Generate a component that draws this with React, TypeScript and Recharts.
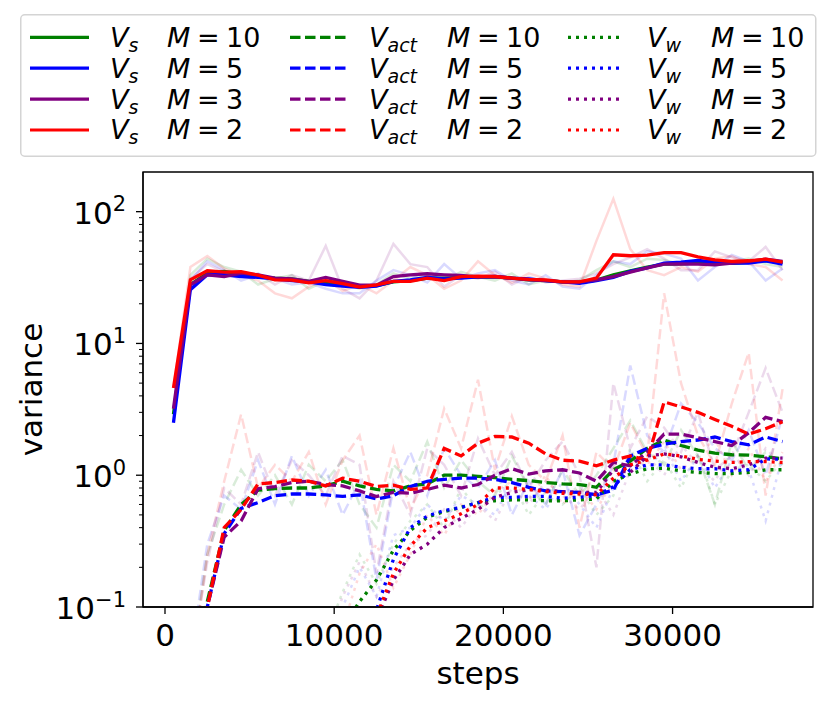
import React from 'react';
import { LineChart, Line, XAxis, YAxis, Legend, Label, ReferenceArea } from 'recharts';

// steps logged (every 1000, starting at 500)
const steps = [
  500, 1500, 2500, 3500, 4500, 5500, 6500, 7500, 8500, 9500,
  10500, 11500, 12500, 13500, 14500, 15500, 16500, 17500, 18500, 19500,
  20500, 21500, 22500, 23500, 24500, 25500, 26500, 27500, 28500, 29500,
  30500, 31500, 32500, 33500, 34500, 35500, 36500,
];

// smoothed curves
const vs10 = [2.9, 27.9, 34.2, 35.2, 33.6, 32.2, 31.3, 30.9, 29.6, 28.8, 27.7, 27.0, 27.5, 29.3, 30.0, 31.3, 31.3, 31.7, 31.9, 32.0, 31.3, 30.4, 30.0, 29.3, 29.0, 30.2, 33.2, 35.6, 38.0, 40.0, 40.2, 40.9, 41.2, 40.5, 41.2, 42.6, 41.2];
const vs5 = [2.5, 25.6, 33.2, 33.2, 32.2, 31.7, 30.9, 30.0, 29.3, 27.9, 27.2, 26.7, 27.2, 29.6, 30.4, 31.7, 30.9, 31.3, 32.0, 32.2, 31.3, 30.9, 30.0, 29.3, 28.6, 30.0, 31.7, 35.2, 37.5, 40.7, 41.4, 42.6, 41.4, 40.7, 40.7, 42.4, 40.0];
const vs3 = [3.2, 27.9, 33.2, 32.2, 34.2, 33.2, 31.3, 30.9, 29.6, 31.7, 29.6, 27.7, 27.7, 32.2, 33.2, 33.8, 33.2, 32.8, 31.9, 32.2, 31.3, 30.4, 30.0, 29.3, 29.3, 30.4, 32.2, 34.8, 37.5, 40.0, 40.2, 40.0, 39.5, 40.7, 41.9, 43.6, 41.9];
const vs2 = [4.6, 30.4, 35.6, 34.8, 35.0, 33.0, 30.4, 30.2, 28.8, 30.0, 28.4, 26.8, 27.8, 29.6, 29.6, 31.3, 30.0, 32.2, 32.4, 32.2, 31.3, 30.6, 30.4, 29.3, 29.3, 31.3, 47.1, 46.3, 46.8, 48.9, 48.9, 45.4, 43.1, 41.9, 42.4, 43.6, 41.4];

const vact10 = [0.005, 0.025, 0.11, 0.38, 0.6, 0.77, 0.79, 0.8, 0.8, 0.83, 0.9, 0.83, 0.78, 0.76, 0.83, 0.86, 1.0, 1.0, 0.98, 0.96, 0.93, 0.91, 0.88, 0.86, 0.85, 0.81, 1.1, 1.28, 1.6, 1.85, 1.68, 1.55, 1.47, 1.43, 1.42, 1.38, 1.33];
const vact5 = [0.004, 0.025, 0.1, 0.36, 0.56, 0.62, 0.7, 0.72, 0.72, 0.71, 0.69, 0.71, 0.66, 0.7, 0.82, 0.9, 0.93, 0.95, 0.95, 0.93, 0.88, 0.81, 0.76, 0.75, 0.74, 0.71, 0.77, 1.4, 1.6, 1.72, 1.8, 1.85, 1.95, 1.8, 1.7, 1.95, 1.8];
const vact3 = [0.005, 0.025, 0.1, 0.34, 0.45, 0.79, 0.82, 0.88, 0.9, 0.85, 0.83, 0.76, 0.69, 0.74, 0.73, 0.78, 0.84, 0.8, 0.85, 1.0, 1.12, 1.02, 1.08, 1.1, 1.04, 0.9, 1.25, 1.18, 1.5, 2.05, 2.05, 1.92, 1.8, 1.68, 2.1, 2.75, 2.55];
const vact2 = [0.005, 0.02, 0.1, 0.4, 0.55, 0.86, 0.88, 0.92, 0.9, 0.83, 0.95, 0.9, 0.82, 0.84, 0.78, 0.8, 1.6, 1.4, 1.75, 1.97, 1.95, 1.75, 1.45, 1.3, 1.28, 1.18, 1.3, 1.4, 1.3, 3.6, 3.3, 3.0, 2.65, 2.35, 2.05, 2.25, 2.55];

const vw10 = [null, null, null, null, null, null, null, null, null, null, 0.07, 0.11, 0.16, 0.27, 0.38, 0.48, 0.53, 0.57, 0.62, 0.64, 0.65, 0.65, 0.64, 0.64, 0.65, 0.66, 0.9, 1.02, 1.12, 1.13, 1.08, 1.05, 1.03, 1.03, 1.05, 1.1, 1.1];
const vw5 = [null, null, null, null, null, null, null, null, null, null, null, 0.045, 0.095, 0.23, 0.4, 0.49, 0.54, 0.57, 0.62, 0.68, 0.68, 0.69, 0.69, 0.67, 0.68, 0.7, 0.82, 1.1, 1.2, 1.2, 1.15, 1.12, 1.12, 1.08, 1.1, 1.33, 1.32];
const vw3 = [null, null, null, null, null, null, null, null, null, null, null, 0.04, 0.08, 0.16, 0.25, 0.3, 0.4, 0.47, 0.55, 0.68, 0.74, 0.78, 0.77, 0.75, 0.74, 0.74, 1.1, 1.05, 1.4, 1.45, 1.38, 1.25, 1.15, 1.12, 1.2, 1.35, 1.35];
const vw2 = [null, null, null, null, null, null, null, null, null, null, null, 0.04, 0.085, 0.18, 0.29, 0.4, 0.45, 0.51, 0.6, 0.8, 0.8, 0.78, 0.75, 0.73, 0.72, 0.71, 0.95, 1.2, 1.3, 1.45, 1.4, 1.32, 1.28, 1.25, 1.27, 1.27, 1.25];

// raw (faint) curves
const fvs10 = [2.9, 33, 44, 38, 35, 28, 31, 33, 26, 30, 29, 26, 28, 34, 31, 33, 30, 35, 32, 30, 34, 28, 30, 29, 30, 36, 42, 38, 44, 43, 40, 41, 39, 42, 44, 40, 38];
const fvs5 = [2.5, 30, 42, 36, 30, 33, 31, 28, 29, 26, 24, 24, 30, 36, 33, 29, 40, 31, 34, 36, 30, 28, 33, 27, 26, 33, 42, 40, 50, 48, 44, 30, 38, 47, 42, 30, 37];
const fvs3 = [3.2, 31, 40, 35, 32, 34, 28, 33, 30, 55, 26, 22, 30, 57, 40, 38, 27, 33, 31, 35, 28, 32, 29, 30, 31, 34, 40, 45, 52, 44, 36, 36, 50, 45, 42, 54, 36];
const fvs2 = [4.6, 38, 46, 37, 33, 30, 24, 22, 27, 31, 25, 28, 24, 30, 38, 33, 26, 30, 42, 33, 29, 34, 31, 28, 27, 60, 125, 52, 36, 33, 38, 35, 44, 46, 40, 38, 30];

const fvact10 = [0.005, 0.035, 0.25, 0.6, 1.1, 0.7, 1.0, 0.6, 1.2, 0.9, 1.3, 0.6, 0.4, 1.2, 0.9, 1.8, 0.8, 1.3, 0.9, 0.7, 1.4, 0.8, 0.6, 1.1, 0.7, 1.0, 1.6, 2.6, 1.5, 1.2, 2.2, 1.4, 0.6, 1.8, 1.1, 1.5, 1.2];
const fvact5 = [0.005, 0.04, 0.3, 0.7, 0.55, 1.3, 0.6, 1.4, 0.7, 1.1, 0.5, 0.9, 0.16, 0.8, 1.5, 0.7, 1.6, 1.0, 0.8, 1.3, 0.5, 0.9, 0.6, 1.1, 0.35, 0.6, 1.2, 6.8, 2.0, 1.5, 3.5, 2.5, 1.6, 1.3, 2.2, 1.0, 2.8];
const fvact3 = [0.005, 0.035, 0.22, 0.8, 0.6, 1.5, 0.7, 1.3, 1.0, 0.7, 1.4, 1.2, 0.18, 0.9, 0.5, 1.6, 1.2, 0.7, 1.9, 1.0, 1.5, 0.8, 1.3, 1.8, 1.0, 0.2, 5.0, 1.6, 2.8, 2.3, 1.5, 3.0, 1.1, 1.4, 3.0, 6.5, 3.0];
const fvact2 = [0.005, 0.03, 0.25, 0.9, 2.9, 0.8, 1.2, 0.9, 1.5, 0.6, 1.3, 2.0, 0.5, 1.6, 0.55, 1.0, 3.2, 1.6, 5.3, 1.1, 2.8, 1.2, 0.9, 2.0, 0.4, 1.5, 1.1, 2.5, 1.4, 24, 5, 2.0, 1.2, 3.5, 8.5, 0.7, 4.5];

const fvw10 = [null, null, null, null, null, null, null, null, null, 0.06, 0.13, 0.25, 0.15, 0.3, 0.45, 0.6, 0.4, 0.8, 0.55, 0.7, 0.9, 0.5, 0.75, 0.6, 0.8, 0.5, 0.7, 1.6, 0.9, 1.3, 0.8, 1.5, 0.6, 1.1, 1.2, 0.9, 1.3];
const fvw5 = [null, null, null, null, null, null, null, null, null, 0.05, 0.1, 0.2, 0.12, 0.35, 0.4, 0.6, 0.45, 0.7, 0.6, 0.5, 0.9, 0.7, 0.55, 0.9, 0.6, 0.4, 0.8, 1.5, 1.1, 1.6, 0.9, 1.4, 0.8, 1.3, 1.1, 0.45, 1.4];
const fvw3 = [null, null, null, null, null, null, null, null, null, 0.05, 0.12, 0.22, 0.12, 0.2, 0.3, 0.35, 0.55, 0.4, 0.6, 0.45, 0.8, 0.6, 0.9, 0.7, 0.55, 0.8, 0.5, 1.1, 1.4, 1.0, 1.7, 1.2, 0.9, 1.5, 1.0, 1.6, 1.2];
const fvw2 = [null, null, null, null, null, null, null, null, null, 0.05, 0.07, 0.18, 0.3, 0.14, 0.25, 0.5, 0.35, 0.6, 0.5, 0.75, 0.9, 0.65, 1.0, 0.6, 0.8, 0.55, 0.9, 1.3, 1.2, 1.8, 1.1, 1.4, 1.9, 1.0, 1.6, 0.9, 1.5];

const xTicks = [0, 10000, 20000, 30000];
const yMajor = [0.1, 1, 10, 100];
const yMinor = [0.2, 0.3, 0.4, 0.5, 0.6, 0.7, 0.8, 0.9, 2, 3, 4, 5, 6, 7, 8, 9, 20, 30, 40, 50, 60, 70, 80, 90];
const yExp: Record<string, string> = { '0.1': '\u22121', '1': '0', '10': '1', '100': '2' };

const legendMs = [10, 5, 3, 2];
const legendSubs = ['s', 'act', 'w'];

const series: Record<string, (number | null)[]> = {
  vs10, vs5, vs3, vs2, vact10, vact5, vact3, vact2, vw10, vw5, vw3, vw2,
  fvs10, fvs5, fvs3, fvs2, fvact10, fvact5, fvact3, fvact2, fvw10, fvw5, fvw3, fvw2,
};

const data = steps.map((step, i) => {
  const row: Record<string, number | null> = { step };
  Object.keys(series).forEach((k) => { row[k] = series[k][i]; });
  return row;
});

const X_DOMAIN: [number, number] = [-1300, 38300];
const Y_DOMAIN: [number, number] = [0.1, 200];

const COLORS = ['#008000', '#0000ff', '#800080', '#ff0000'];
const GROUPS = [
  { name: 'vs', dash: undefined as string | undefined },
  { name: 'vact', dash: '10.5 4.5' },
  { name: 'vw', dash: '3 5' },
];
const FONT = '"DejaVu Sans", sans-serif';

const LEGEND_COLS = [
  { sx: 10, ex: 69, vx: 90, mx: 147 },
  { sx: 270, ex: 326, vx: 349, mx: 427 },
  { sx: 548, ex: 604, vx: 627, mx: 691 },
];

const LegendBox = () => (
  <svg width={798} height={144} style={{ display: 'block', fontFamily: FONT }}>
    <rect x={0.75} y={0.75} width={795} height={141.5} rx={4} fill="#fff" stroke="#d4d4d4" strokeWidth={1.5} />
    {LEGEND_COLS.map((col, c) =>
      legendMs.map((m, r) => {
        const y = 23.3 + r * 30.9;
        return (
          <g key={`${c}-${r}`}>
            <line x1={col.sx} x2={col.ex} y1={y} y2={y} stroke={COLORS[r]} strokeWidth={3.2} strokeDasharray={GROUPS[c].dash} />
            <text x={col.vx} y={y + 9.4} fontSize={27} fontStyle="italic" fill="#000">
              V<tspan fontSize={19} dy={5}>{legendSubs[c]}</tspan>
            </text>
            <text x={col.mx} y={y + 9.4} fontSize={27} fill="#000" wordSpacing={-2}>
              <tspan fontStyle="italic">M</tspan>{' = '}{m}
            </text>
          </g>
        );
      })
    )}
  </svg>
);

const YTick = (props: any) => {
  const { x, y, payload } = props;
  const v = payload.value;
  const major = yMajor.includes(v);
  return (
    <g>
      <line x1={x} x2={x - (major ? 7 : 4)} y1={y} y2={y} stroke="#000" strokeWidth={major ? 1.3 : 1} />
      {major && (
        <text x={x - 17} y={y + 12} textAnchor="end" fontSize={31} fill="#000" fontFamily={FONT}>
          10<tspan dy={-12.5} fontSize={21}>{yExp[String(v)]}</tspan>
        </text>
      )}
    </g>
  );
};

const XTick = (props: any) => {
  const { x, y, payload } = props;
  return (
    <g>
      <line x1={x} x2={x} y1={y} y2={y + 7} stroke="#000" strokeWidth={1.3} />
      <text x={x} y={y + 38.5} textAnchor="middle" fontSize={31} fill="#000" fontFamily={FONT}>
        {payload.value}
      </text>
    </g>
  );
};

const App = () => {
  return (
    <div style={{ position: 'absolute', left: 0, top: 0, width: 831, height: 706, background: '#fff', fontFamily: FONT }}>
      <LineChart width={831} height={706} data={data} margin={{ top: 172, right: 18, bottom: 9, left: 43 }}>
        <XAxis
          dataKey="step"
          type="number"
          domain={X_DOMAIN}
          ticks={xTicks}
          interval={0}
          height={90}
          tickSize={0}
          tickMargin={0}
          tickLine={false}
          tick={<XTick />}
          axisLine={{ stroke: '#000', strokeWidth: 1.3 }}
        >
          <Label value="steps" position="insideBottom" offset={13} fontSize={31} fill="#000" />
        </XAxis>
        <YAxis
          type="number"
          scale="log"
          domain={Y_DOMAIN}
          allowDataOverflow
          ticks={[...yMajor, ...yMinor]}
          interval={0}
          width={100}
          tickSize={0}
          tickMargin={0}
          tickLine={false}
          tick={<YTick />}
          axisLine={{ stroke: '#000', strokeWidth: 1.3 }}
        >
          <Label
            content={(p: any) => {
              const vb = p.viewBox || { x: 43, y: 172, width: 100, height: 435 };
              const lx = vb.x - 1.5;
              const ly = vb.y + vb.height / 2;
              return (
                <text x={lx} y={ly} transform={`rotate(-90 ${lx} ${ly})`} textAnchor="middle" fontSize={31} fill="#000" fontFamily={FONT}>
                  variance
                </text>
              );
            }}
          />
        </YAxis>
        <Legend
          layout="horizontal"
          verticalAlign="middle"
          align="center"
          wrapperStyle={{ top: 14, left: 20, width: 798, height: 144 }}
          content={() => <LegendBox />}
        />
        {GROUPS.map((g) =>
          legendMs.map((m, ci) => (
            <Line
              key={`f${g.name}${m}`}
              dataKey={`f${g.name}${m}`}
              type="linear"
              stroke={COLORS[ci]}
              strokeOpacity={0.15}
              strokeWidth={2.5}
              strokeDasharray={g.dash}
              dot={false}
              activeDot={false}
              legendType="none"
              isAnimationActive={false}
            />
          ))
        )}
        {GROUPS.map((g) =>
          legendMs.map((m, ci) => (
            <Line
              key={`${g.name}${m}`}
              dataKey={`${g.name}${m}`}
              type="linear"
              stroke={COLORS[ci]}
              strokeWidth={3.3}
              strokeDasharray={g.dash}
              dot={false}
              activeDot={false}
              isAnimationActive={false}
            />
          ))
        )}
        {/* axes frame (top/right spines) */}
        <ReferenceArea
          x1={X_DOMAIN[0]}
          x2={X_DOMAIN[1]}
          y1={Y_DOMAIN[0]}
          y2={Y_DOMAIN[1]}
          fill="none"
          fillOpacity={0}
          stroke="#000"
          strokeWidth={1.3}
          ifOverflow="visible"
        />
      </LineChart>
    </div>
  );
};

export default App;
